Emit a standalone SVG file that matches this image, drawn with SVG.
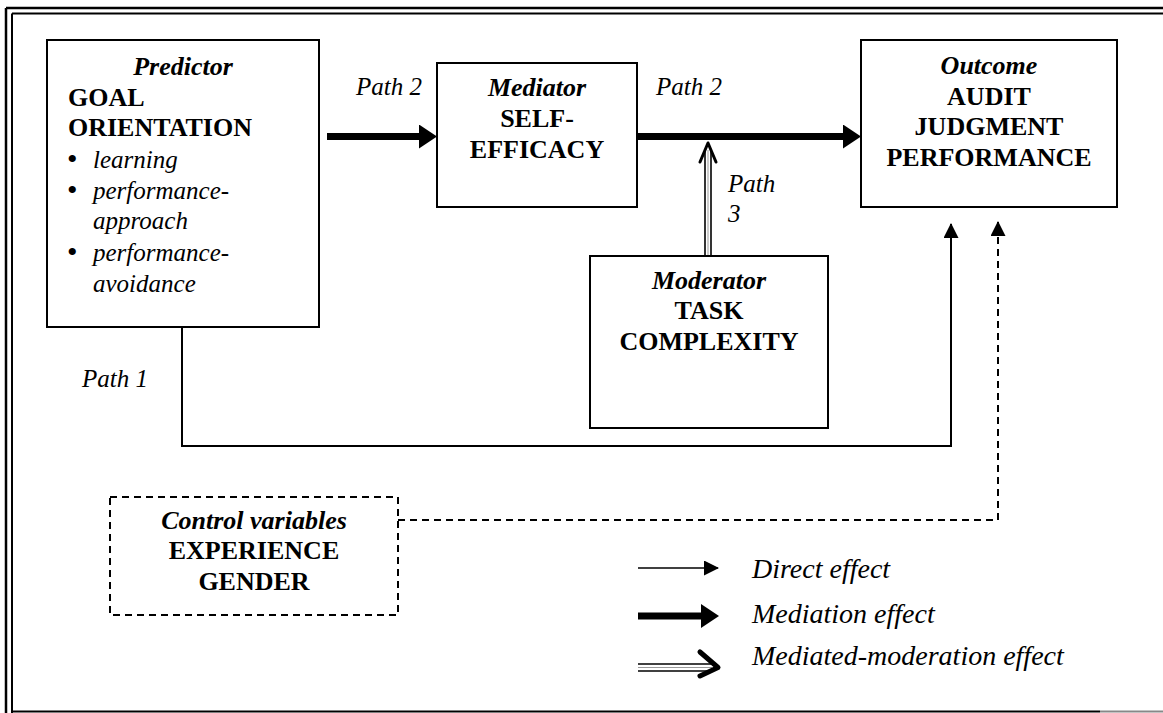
<svg xmlns="http://www.w3.org/2000/svg" width="1163" height="713" viewBox="0 0 1163 713">
<style>
  text { font-family: "Liberation Serif", "Times New Roman", serif; fill: #000; }
  .t { font-size: 26px; font-weight: bold; }
  .ti { font-size: 26px; font-weight: bold; font-style: italic; }
  .it { font-size: 25px; font-style: italic; }
  .bu { font-size: 30px; }
  .lg { font-size: 28px; font-style: italic; }
  .box { fill: #fff; stroke: #000; stroke-width: 2; }
  .dash { fill: #fff; stroke: #000; stroke-width: 2; stroke-dasharray: 7 5; }
  .thin { fill: none; stroke: #000; stroke-width: 2; }
  .thick { fill: none; stroke: #000; stroke-width: 7; }
  .dashl { fill: none; stroke: #000; stroke-width: 2; stroke-dasharray: 7 5; }
</style>
<defs>
  <marker id="thinHead" markerUnits="userSpaceOnUse" viewBox="0 0 15 15" refX="14" refY="7.5" markerWidth="15" markerHeight="15" orient="auto">
    <path d="M0,0 L15,7.5 L0,15 z" fill="#000"/>
  </marker>
  <marker id="thickHead" markerUnits="userSpaceOnUse" viewBox="0 0 18 24" refX="1" refY="12" markerWidth="18" markerHeight="24" orient="auto">
    <path d="M0,0 L18,12 L0,24 z" fill="#000"/>
  </marker>
</defs>

<g id="frame">
  <line x1="6" y1="8" x2="1163" y2="8" stroke="#000" stroke-width="2.5"/>
  <line x1="12" y1="13.5" x2="1163" y2="13.5" stroke="#000" stroke-width="2"/>
  <line x1="6" y1="8" x2="6" y2="713" stroke="#000" stroke-width="2.5"/>
  <line x1="12" y1="13.5" x2="12" y2="713" stroke="#000" stroke-width="2"/>
  <line x1="12" y1="711.5" x2="1100" y2="711.5" stroke="#000" stroke-width="2"/>
  <line x1="1100" y1="711.5" x2="1163" y2="711.5" stroke="#888" stroke-width="2"/>
</g>

<g id="connectors">
  <polyline class="thin" points="182,327 182,446 951,446 951,224" marker-end="url(#thinHead)"/>
  <polyline class="dashl" points="398,520 998,520 998,224"/>
  <line x1="998" y1="226" x2="998" y2="222" stroke="#000" stroke-width="2" marker-end="url(#thinHead)"/>
  <line class="thick" x1="327" y1="136.5" x2="420" y2="136.5" marker-end="url(#thickHead)"/>
  <line class="thick" x1="637" y1="136.5" x2="844" y2="136.5" marker-end="url(#thickHead)"/>
  <g id="path3">
    <line x1="705" y1="256" x2="705" y2="150" stroke="#000" stroke-width="1.6"/>
    <line x1="708" y1="256" x2="708" y2="150" stroke="#999" stroke-width="1"/>
    <line x1="711" y1="256" x2="711" y2="150" stroke="#000" stroke-width="1.6"/>
    <path d="M700,162 L708,143 L716,162" fill="none" stroke="#000" stroke-width="3" stroke-linecap="round" stroke-linejoin="round"/>
  </g>
  <text class="it" x="356" y="95">Path 2</text>
  <text class="it" x="656" y="95">Path 2</text>
  <text class="it" x="728" y="192">Path</text>
  <text class="it" x="728" y="222">3</text>
  <text class="it" x="82" y="387">Path 1</text>
</g>

<g id="predictor">
  <rect class="box" x="47" y="40" width="272" height="287"/>
  <text class="ti" x="183" y="75" text-anchor="middle">Predictor</text>
  <text class="t" x="68" y="106">GOAL</text>
  <text class="t" x="68" y="136">ORIENTATION</text>
  <text class="bu" x="67" y="169">•</text>
  <text class="it" x="93" y="168">learning</text>
  <text class="bu" x="67" y="200">•</text>
  <text class="it" x="93" y="199">performance-</text>
  <text class="it" x="93" y="229">approach</text>
  <text class="bu" x="67" y="262">•</text>
  <text class="it" x="93" y="261">performance-</text>
  <text class="it" x="93" y="292">avoidance</text>
</g>

<g id="mediator">
  <rect class="box" x="437" y="63" width="200" height="144"/>
  <text class="ti" x="537" y="96" text-anchor="middle">Mediator</text>
  <text class="t" x="537" y="127" text-anchor="middle">SELF-</text>
  <text class="t" x="537" y="158" text-anchor="middle">EFFICACY</text>
</g>

<g id="outcome">
  <rect class="box" x="861" y="40" width="256" height="167"/>
  <text class="ti" x="989" y="74" text-anchor="middle">Outcome</text>
  <text class="t" x="989" y="105" text-anchor="middle">AUDIT</text>
  <text class="t" x="989" y="135" text-anchor="middle">JUDGMENT</text>
  <text class="t" x="989" y="166" text-anchor="middle">PERFORMANCE</text>
</g>

<g id="moderator">
  <rect class="box" x="590" y="256" width="238" height="172"/>
  <text class="ti" x="709" y="289" text-anchor="middle">Moderator</text>
  <text class="t" x="709" y="319" text-anchor="middle">TASK</text>
  <text class="t" x="709" y="350" text-anchor="middle">COMPLEXITY</text>
</g>

<g id="control">
  <rect class="dash" x="110" y="497" width="288" height="118"/>
  <text class="ti" x="254" y="529" text-anchor="middle">Control variables</text>
  <text class="t" x="254" y="559" text-anchor="middle">EXPERIENCE</text>
  <text class="t" x="254" y="590" text-anchor="middle">GENDER</text>
</g>

<g id="legend">
  <line x1="638" y1="568" x2="718" y2="568" stroke="#000" stroke-width="1.6" marker-end="url(#thinHead)"/>
  <line class="thick" x1="638" y1="616" x2="702" y2="616" marker-end="url(#thickHead)"/>
  <line x1="638" y1="664" x2="712" y2="664" stroke="#000" stroke-width="1.6"/>
  <line x1="638" y1="667.5" x2="712" y2="667.5" stroke="#999" stroke-width="1"/>
  <line x1="638" y1="671" x2="712" y2="671" stroke="#000" stroke-width="1.6"/>
  <path d="M700,652 L718,667.5 L700,676" fill="none" stroke="#000" stroke-width="5" stroke-linecap="round" stroke-linejoin="round"/>
  <text class="lg" x="752" y="578">Direct effect</text>
  <text class="lg" x="752" y="623">Mediation effect</text>
  <text class="lg" x="752" y="665">Mediated-moderation effect</text>
</g>
</svg>
